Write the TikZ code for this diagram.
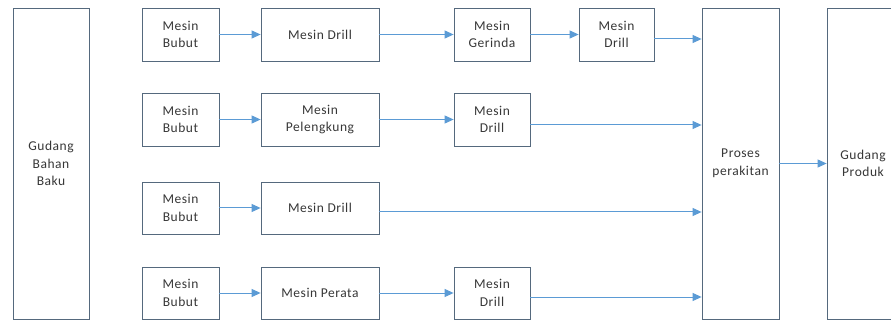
\documentclass[tikz,border=0pt]{standalone}
\usepackage{fontspec}
\setmainfont{Carlito}[LetterSpace=4]
\usetikzlibrary{arrows.meta}
\definecolor{boxc}{RGB}{85,105,125}
\definecolor{arrc}{RGB}{91,155,213}
\definecolor{txtc}{RGB}{55,55,55}
\begin{document}
\begin{tikzpicture}[x=1pt,y=-1pt,
  box/.style={draw=boxc,line width=0.8pt,fill=white,inner sep=0pt,align=center,text=txtc,font=\fontsize{13.5}{17.5}\selectfont},
  arr/.style={draw=arrc,line width=1pt,-{Triangle[length=9pt,width=8pt]}}]
\useasboundingbox (0,0) rectangle (891,320);
\clip (0,0) rectangle (891,320);
\fill[white] (0,0) rectangle (891,320);
% big boxes
\node[box,minimum width=76pt,minimum height=311pt] (gbb) at (51,163.5) {Gudang\\Bahan\\Baku};
\node[box,minimum width=77pt,minimum height=311pt] (pr) at (740.5,163.5) {Proses\\perakitan};
\node[box,minimum width=72pt,minimum height=311pt] (gp) at (863,163.5) {Gudang\\Produk};
% row 1
\node[box,minimum width=77pt,minimum height=53pt] (b1) at (180.5,34.5) {Mesin\\Bubut};
\node[box,minimum width=118pt,minimum height=53pt] (d1) at (320,34.5) {Mesin Drill};
\node[box,minimum width=76pt,minimum height=53pt] (g1) at (492,34.5) {Mesin\\Gerinda};
\node[box,minimum width=75pt,minimum height=53pt] (e1) at (616.5,34.5) {Mesin\\Drill};
% row 2
\node[box,minimum width=77pt,minimum height=53pt] (b2) at (180.5,119.5) {Mesin\\Bubut};
\node[box,minimum width=118pt,minimum height=53pt] (p2) at (320,119.5) {Mesin\\Pelengkung};
\node[box,minimum width=76pt,minimum height=53pt] (d2) at (492,119.5) {Mesin\\Drill};
% row 3
\node[box,minimum width=77pt,minimum height=52pt] (b3) at (180.5,208) {Mesin\\Bubut};
\node[box,minimum width=118pt,minimum height=52pt] (d3) at (320,208) {Mesin Drill};
% row 4
\node[box,minimum width=77pt,minimum height=52pt] (b4) at (180.5,293) {Mesin\\Bubut};
\node[box,minimum width=118pt,minimum height=52pt] (r4) at (320,293) {Mesin Perata};
\node[box,minimum width=76pt,minimum height=52pt] (d4) at (492,293) {Mesin\\Drill};
% arrows
\draw[arr] (b1) -- (d1);
\draw[arr] (d1) -- (g1);
\draw[arr] (g1) -- (e1);
\draw[arr] ([yshift=-4.5pt]e1.east) -- ([yshift=-4.5pt]e1.east -| pr.west);
\draw[arr] (b2) -- (p2);
\draw[arr] (p2) -- (d2);
\draw[arr] ([yshift=-5.5pt]d2.east) -- ([yshift=-5.5pt]d2.east -| pr.west);
\draw[arr] (b3) -- (d3);
\draw[arr] ([yshift=-4pt]d3.east) -- ([yshift=-4pt]d3.east -| pr.west);
\draw[arr] (b4) -- (r4);
\draw[arr] (r4) -- (d4);
\draw[arr] ([yshift=-4pt]d4.east) -- ([yshift=-4pt]d4.east -| pr.west);
\draw[arr] (pr) -- (gp);
\end{tikzpicture}
\end{document}
